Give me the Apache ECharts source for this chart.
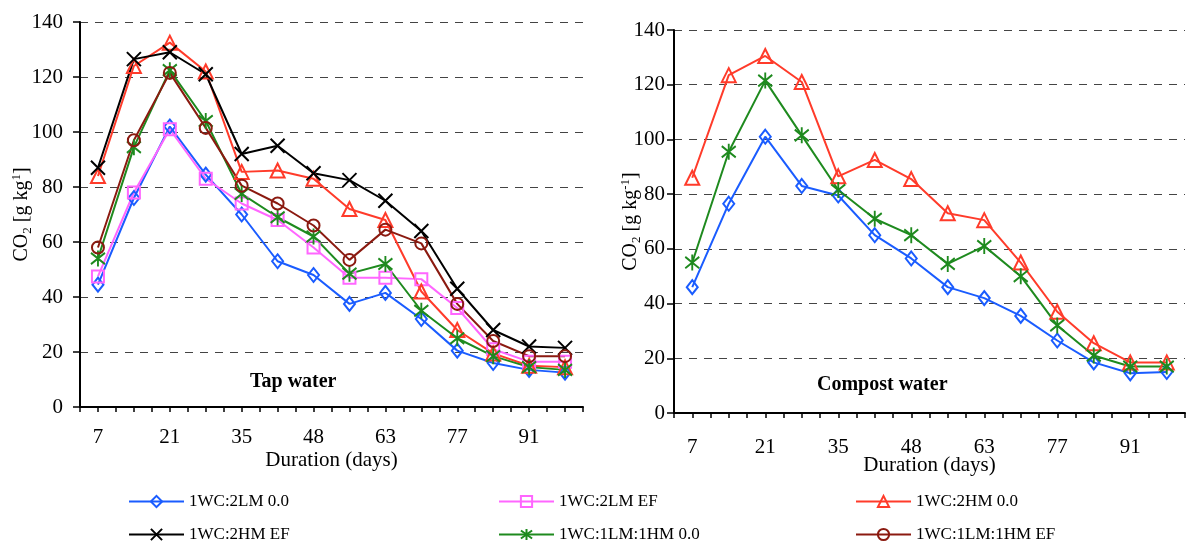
<!DOCTYPE html>
<html>
<head>
<meta charset="utf-8">
<script src="https://cdn.jsdelivr.net/npm/echarts@6/dist/echarts.min.js"></script>
<style>
  html, body { margin: 0; padding: 0; background: #fff; }
  #chart { width: 1188px; height: 545px; }
</style>
</head>
<body>
<div id="chart"></div>
<script>
// Sampling days (category labels as recorded)
const days = ['7', '14', '21', '28', '35', '42', '48', '56', '63', '70', '77', '84', '91', '98'];
const yTicks = [0, 20, 40, 60, 80, 100, 120, 140];

// Tap water, CO2 [g kg-1]
const tapLM00   = [44.5, 76, 102, 84.5, 70, 53, 48, 37.5, 41.5, 32, 20.5, 16, 13.5, 12.5];
const tapLMEF   = [47.5, 78, 101, 83, 74, 68, 58, 47, 47, 46.5, 36, 21, 16.5, 16.5];
const tapHM00   = [84, 124, 132.5, 122, 85.5, 86, 83, 72, 68, 42, 28, 19.5, 15, 14.5];
const tapHMEF   = [87, 126.5, 129, 121, 92, 95, 85, 82.5, 75, 64, 43, 28, 22, 21.5];
const tapLMHM00 = [54, 94.5, 122.5, 104, 77.5, 69, 62, 48.5, 52, 35, 25, 18.5, 14.5, 13.5];
const tapLMHMEF = [58, 97, 121.5, 101.5, 80.5, 74, 66, 53.5, 64.5, 59.5, 37.5, 24, 18.5, 18.5];

// Compost water, CO2 [g kg-1]
const compLM00   = [46, 76.5, 101, 83, 79.5, 65, 56.5, 46, 42, 35.5, 26.5, 18.5, 14.5, 15];
const compHM00   = [86, 123.5, 130.5, 121, 86.5, 92.5, 85.5, 73, 70.5, 55, 37, 25.5, 18.5, 18.5];
const compLMHM00 = [55, 95.5, 121.5, 101.5, 81.5, 71, 65, 54.5, 61, 50, 32, 21, 17, 17];

const seriesNames = ['1WC:2LM 0.0', '1WC:2LM EF', '1WC:2HM 0.0', '1WC:2HM EF', '1WC:1LM:1HM 0.0', '1WC:1LM:1HM EF'];

const FONT = "'Liberation Serif', 'Times New Roman', serif";

// Marker style per treatment
const styles = {
  '1WC:2LM 0.0':     { color: '#1a5cff', symbol: 'diamond', size: [11, 14], hollow: true },
  '1WC:2LM EF':      { color: '#ff66ff', symbol: 'rect', size: 12, hollow: true },
  '1WC:2HM 0.0':     { color: '#ff3b2a', symbol: 'triangle', size: 14, hollow: true },
  '1WC:2HM EF':      { color: '#000000', symbol: 'path://M0,0L10,10M10,0L0,10', size: 14, hollow: false },
  '1WC:1LM:1HM 0.0': { color: '#1e8a1e', symbol: 'path://M1,2L11,12M11,2L1,12M6,0L6,14', size: [14, 16], hollow: false },
  '1WC:1LM:1HM EF':  { color: '#8b1a10', symbol: 'circle', size: 12, hollow: true }
};

// Points sit at category index i; the x axis is a value axis over the
// category slots so that ticks fall both on the points and between them.
function makeSeries(name, values, gi) {
  const s = styles[name];
  return {
    name: name,
    type: 'line',
    xAxisIndex: gi,
    yAxisIndex: gi,
    data: values.map(function (v, i) { return [i, v]; }),
    symbol: s.symbol,
    symbolSize: s.size,
    showAllSymbol: true,
    lineStyle: { color: s.color, width: 2 },
    itemStyle: {
      color: s.hollow ? 'rgba(255,255,255,0)' : s.color,
      borderColor: s.color,
      borderWidth: 2
    },
    emphasis: { disabled: true },
    z: 3
  };
}

function xAxis(gi, labelMargin, nameGap) {
  return {
    type: 'value',
    gridIndex: gi,
    min: -0.5,
    max: days.length - 0.5,
    interval: 0.5,
    axisLine: { onZero: false, lineStyle: { color: '#000', width: 2 } },
    axisTick: { show: true, length: 5, lineStyle: { color: '#000', width: 1.5 } },
    axisLabel: {
      margin: labelMargin,
      color: '#000',
      fontFamily: FONT,
      fontSize: 21,
      showMinLabel: true,
      showMaxLabel: true,
      formatter: function (v) {
        const i = Math.round(v * 2) / 2;
        if (i < 0 || i % 2 !== 0) return '';
        return days[i];
      }
    },
    name: 'Duration (days)',
    nameLocation: 'middle',
    nameGap: nameGap,
    nameMoveOverlap: false,
    nameTextStyle: { color: '#000', fontFamily: FONT, fontSize: 21 },
    splitLine: { show: false }
  };
}

function yAxis(gi, labelMargin, nameGap, supText) {
  return {
    type: 'value',
    gridIndex: gi,
    min: yTicks[0],
    max: yTicks[yTicks.length - 1],
    interval: 20,
    axisLine: { show: true, onZero: false, lineStyle: { color: '#000', width: 2 } },
    axisTick: { show: true, length: 7, lineStyle: { color: '#000', width: 1.5 } },
    axisLabel: { margin: labelMargin, color: '#000', fontFamily: FONT, fontSize: 21 },
    splitLine: { show: true, lineStyle: { color: '#444', width: 1, type: [8, 7] } },
    name: '{n|CO}{sub|2}{n| [g kg}{sup|' + supText + '}{n|]}',
    nameLocation: 'middle',
    nameRotate: 90,
    nameGap: nameGap,
    nameMoveOverlap: false,
    nameTextStyle: {
      color: '#000',
      fontFamily: FONT,
      fontSize: 20,
      rich: {
        n:   { fontFamily: FONT, fontSize: 20, lineHeight: 24, color: '#000' },
        sub: { fontFamily: FONT, fontSize: 13, lineHeight: 12, verticalAlign: 'bottom', color: '#000' },
        sup: { fontFamily: FONT, fontSize: 13, lineHeight: 12, verticalAlign: 'top', color: '#000' }
      }
    }
  };
}

function legendCol(left, names) {
  return {
    orient: 'vertical',
    left: left,
    top: 493,
    height: 60,
    itemWidth: 55,
    itemHeight: 14,
    itemGap: 16,
    padding: 0,
    selectedMode: false,
    data: names,
    textStyle: { color: '#000', fontFamily: FONT, fontSize: 17 }
  };
}

const chart = echarts.init(document.getElementById('chart'), null, { renderer: 'canvas' });

chart.setOption({
  animation: false,
  backgroundColor: '#fff',
  grid: [
    { left: 80, top: 22, right: 605, bottom: 138, containLabel: false },
    { left: 674, top: 30, right: 0, bottom: 132, containLabel: false }
  ],
  xAxis: [xAxis(0, 20, 43), xAxis(1, 24, 42)],
  yAxis: [yAxis(0, 17, 46, '1'), yAxis(1, 9, 31, '-1')],
  legend: [
    legendCol(128, [seriesNames[0], seriesNames[3]]),
    legendCol(498, [seriesNames[1], seriesNames[4]]),
    legendCol(855, [seriesNames[2], seriesNames[5]])
  ],
  graphic: [
    { type: 'text', left: 250, top: 372, style: { text: 'Tap water', font: "bold 20px 'Liberation Serif', serif", fill: '#000' } },
    { type: 'text', left: 817, top: 375, style: { text: 'Compost water', font: "bold 20px 'Liberation Serif', serif", fill: '#000' } }
  ],
  series: [
    makeSeries(seriesNames[0], tapLM00, 0),
    makeSeries(seriesNames[1], tapLMEF, 0),
    makeSeries(seriesNames[2], tapHM00, 0),
    makeSeries(seriesNames[3], tapHMEF, 0),
    makeSeries(seriesNames[4], tapLMHM00, 0),
    makeSeries(seriesNames[5], tapLMHMEF, 0),
    makeSeries(seriesNames[0], compLM00, 1),
    makeSeries(seriesNames[2], compHM00, 1),
    makeSeries(seriesNames[4], compLMHM00, 1)
  ]
});
</script>
</body>
</html>
